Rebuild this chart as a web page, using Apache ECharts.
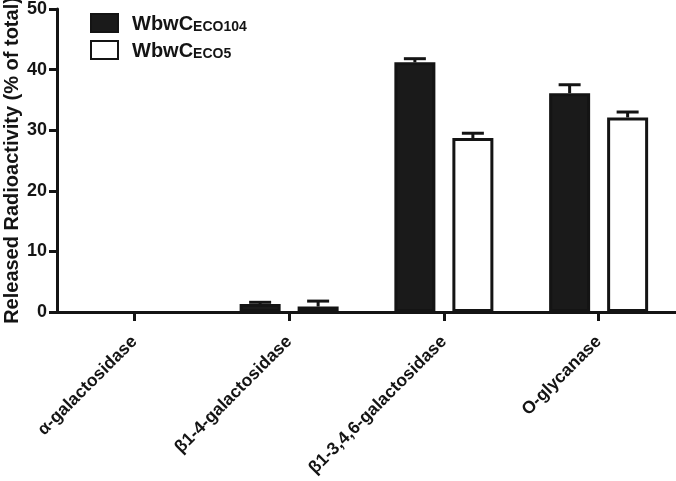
<!DOCTYPE html>
<html>
<head>
<meta charset="utf-8">
<script src="https://cdn.jsdelivr.net/npm/echarts@6/dist/echarts.min.js"></script>
<style>html,body{margin:0;padding:0;background:#fff;}#c{width:676px;height:481px;}</style>
</head>
<body>
<div id="c"></div>
<script>
const categories = ['\u03b1-galactosidase', '\u03b21-4-galactosidase', '\u03b21-3,4,6-galactosidase', 'O-glycanase'];
const seriesNames = ['WbwC_ECO104', 'WbwC_ECO5'];
const eco104Values = [0, 1.3, 41.2, 36.1];
const eco104Errors = [0, 0.3, 0.6, 1.4];
const eco5Values = [0, 0.9, 28.7, 32.1];
const eco5Errors = [0, 0.9, 0.8, 0.9];
const yTicks = [0, 10, 20, 30, 40, 50];

const FONT = '"Liberation Sans", Arial, sans-serif';
const INK = '#141414';
const BAR_W = 41;
const CENTER_SPACING = 58;
const HALF = CENTER_SPACING / 2;

function barData(vals) {
  return vals.map(v => v === 0 ? { value: v, itemStyle: { borderWidth: 0, color: 'rgba(0,0,0,0)' } } : v);
}

function errSeries(vals, errs, side) {
  return {
    type: 'custom',
    silent: true,
    z: 3,
    data: vals.map((v, i) => [i, v, errs[i]]),
    renderItem: function (params, api) {
      const e = api.value(2);
      if (!e) return null;
      const cx = api.coord([api.value(0), 0])[0] + side * HALF;
      const yb = api.coord([api.value(0), api.value(1)])[1];
      const yt = api.coord([api.value(0), api.value(1) + e])[1];
      const st = { stroke: INK, lineWidth: 3 };
      return {
        type: 'group',
        children: [
          { type: 'line', shape: { x1: cx, y1: yb, x2: cx, y2: yt }, style: st },
          { type: 'line', shape: { x1: cx - 11, y1: yt, x2: cx + 11, y2: yt }, style: st }
        ]
      };
    }
  };
}

const chart = echarts.init(document.getElementById('c'), null, { renderer: 'canvas' });
chart.setOption({
  animation: false,
  backgroundColor: '#fff',
  textStyle: { fontFamily: FONT },
  grid: { left: 57, right: 0, top: 9, bottom: 169, containLabel: false, outerBoundsMode: 'none' },
  legend: {
    data: seriesNames,
    orient: 'vertical',
    left: 90,
    top: 13,
    padding: 0,
    itemGap: 6,
    itemWidth: 27,
    itemHeight: 18,
    icon: 'rect',
    formatter: function (name) {
      const p = name.split('_');
      return '{m|' + p[0] + '}{s|' + p[1] + '}';
    },
    textStyle: {
      padding: [0, 0, 0, 9],
      rich: {
        m: { fontFamily: FONT, fontWeight: 'bold', fontSize: 20, color: INK, lineHeight: 22, verticalAlign: 'bottom' },
        s: { fontFamily: FONT, fontWeight: 'bold', fontSize: 14, color: INK, lineHeight: 7, verticalAlign: 'bottom' }
      }
    }
  },
  xAxis: {
    type: 'category',
    data: categories,
    boundaryGap: true,
    axisLine: { show: true, lineStyle: { color: INK, width: 3 } },
    axisTick: { show: true, interval: 0, alignWithLabel: true, length: 9, lineStyle: { color: INK, width: 3 } },
    axisLabel: {
      rotate: 45,
      margin: 27,
      interval: 0,
      fontFamily: FONT,
      fontWeight: 'bold',
      fontSize: 17.5,
      color: INK
    },
    splitLine: { show: false }
  },
  yAxis: {
    type: 'value',
    min: yTicks[0],
    max: yTicks[yTicks.length - 1],
    interval: yTicks[1] - yTicks[0],
    name: 'Released Radioactivity (% of total)',
    nameLocation: 'middle',
    nameGap: 35,
    nameMoveOverlap: false,
    nameTextStyle: { fontFamily: FONT, fontWeight: 'bold', fontSize: 20, color: INK },
    axisLine: { show: true, lineStyle: { color: INK, width: 3 } },
    axisTick: { show: true, length: 8, lineStyle: { color: INK, width: 3 } },
    axisLabel: { margin: 10, fontFamily: FONT, fontWeight: 'bold', fontSize: 18, color: INK },
    splitLine: { show: false }
  },
  series: [
    {
      name: seriesNames[0],
      type: 'bar',
      data: barData(eco104Values),
      barWidth: BAR_W,
      barGap: ((CENTER_SPACING - BAR_W) / BAR_W * 100) + '%',
      itemStyle: { color: '#1a1a1a', borderColor: INK, borderWidth: 3 }
    },
    {
      name: seriesNames[1],
      type: 'bar',
      data: barData(eco5Values),
      barWidth: BAR_W,
      itemStyle: { color: '#ffffff', borderColor: INK, borderWidth: 3 }
    },
    errSeries(eco104Values, eco104Errors, -1),
    errSeries(eco5Values, eco5Errors, 1)
  ]
});
</script>
</body>
</html>
